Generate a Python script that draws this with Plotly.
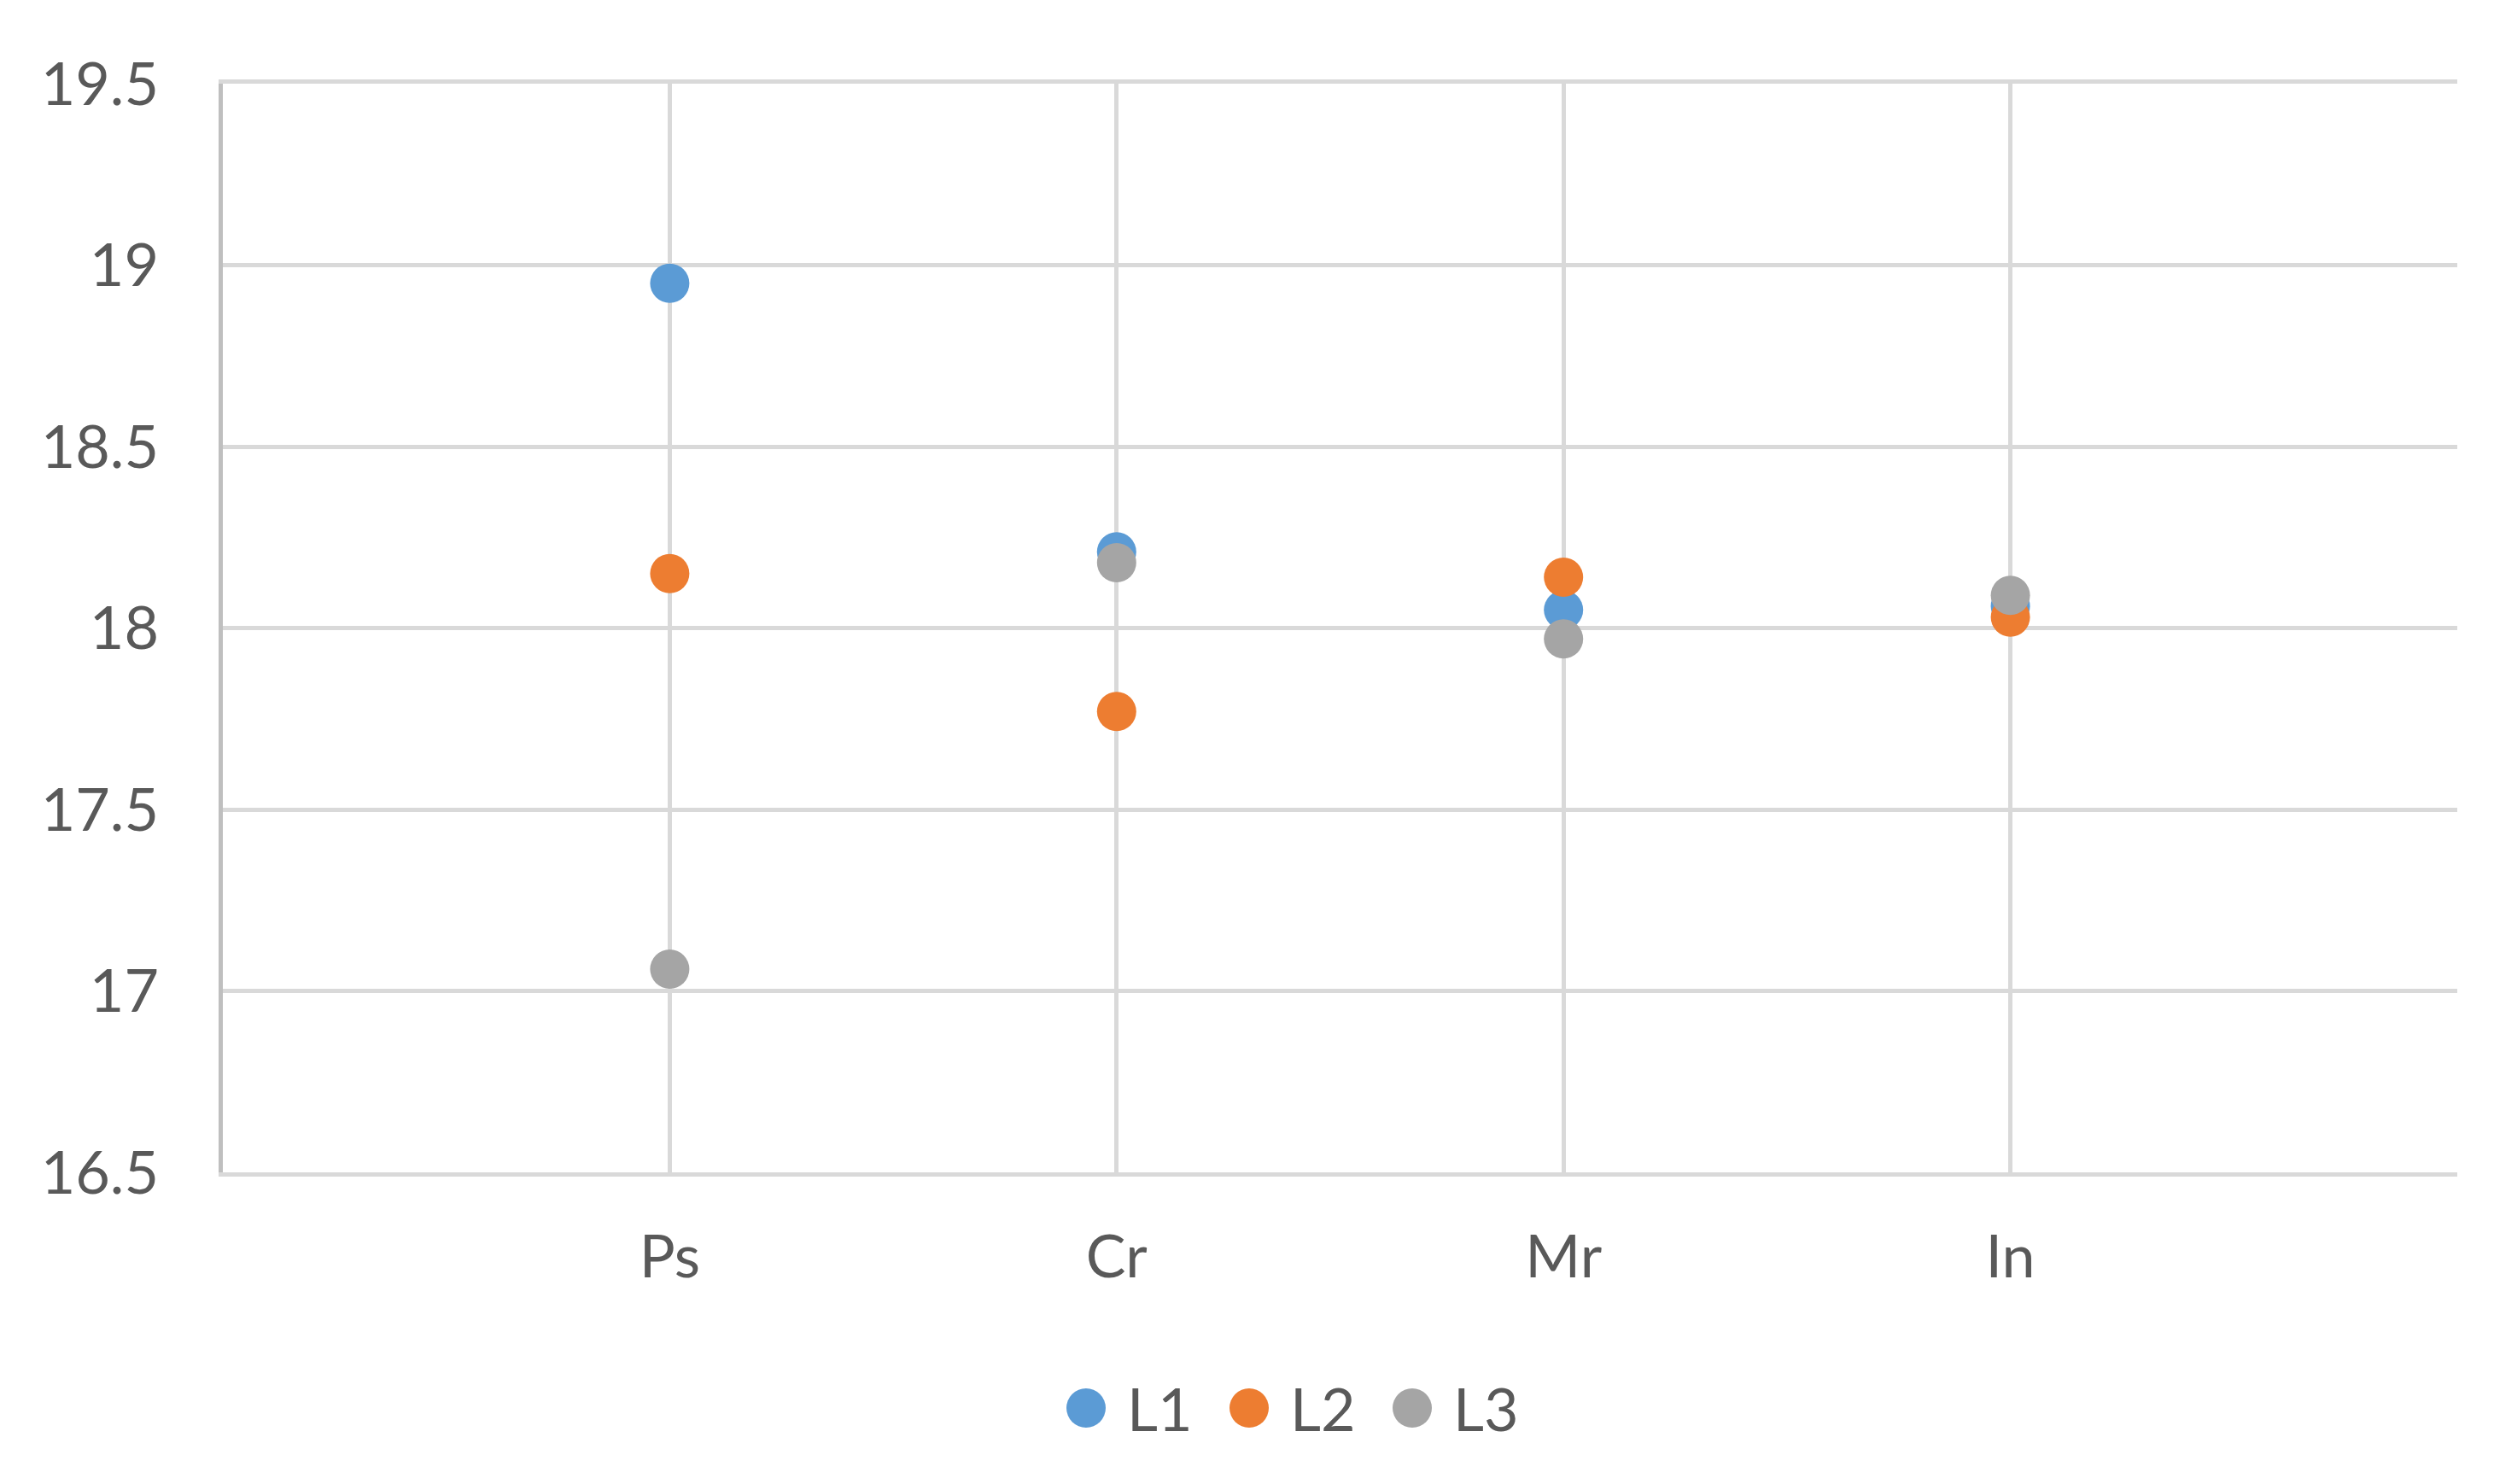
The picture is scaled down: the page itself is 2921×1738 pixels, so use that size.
import plotly.graph_objects as go

# ---- data ----
categories = ["Ps", "Cr", "Mr", "In"]
cat_pos = [1, 2, 3, 4]
series_names = ["L1", "L2", "L3"]
L1 = [18.95, 18.21, 18.05, 18.06]
L2 = [18.15, 17.77, 18.14, 18.03]
L3 = [17.06, 18.18, 17.97, 18.09]
series_values = [L1, L2, L3]
colors = ["#5B9BD5", "#ED7D31", "#A5A5A5"]
y_ticks = [16.5, 17, 17.5, 18, 18.5, 19, 19.5]
y_ticktext = ["16.5", "17", "17.5", "18", "18.5", "19", "19.5"]

# ---- layout geometry (pixels) ----
W, H = 2921, 1738
ML, MR, MT, MB = 261, 43, 98, 365
PW, PH = W - ML - MR, H - MT - MB
FONT = "Lato, 'Open Sans', sans-serif"
FS = 70
TXT = "#595959"
GRID = "#D9D9D9"
MSIZE = 46

fig = go.Figure()
for name, vals, col in zip(series_names, series_values, colors):
    fig.add_trace(go.Scatter(
        x=cat_pos, y=vals, mode="markers", name=name,
        marker=dict(size=MSIZE, color=col, line=dict(width=0)),
        showlegend=False,
    ))

xt_vals = [0] + cat_pos + [len(cat_pos) + 1]
xt_text = [""] + categories + [""]

fig.update_layout(
    width=W, height=H,
    margin=dict(l=ML, r=MR, t=MT, b=MB, pad=0),
    paper_bgcolor="white", plot_bgcolor="white",
    font=dict(family=FONT, size=FS, color=TXT),
    showlegend=False,
    xaxis=dict(range=[0, len(cat_pos) + 1], tickmode="array", tickvals=xt_vals, ticktext=xt_text,
               showgrid=True, gridcolor=GRID, gridwidth=5, zeroline=False,
               showline=True, linecolor=GRID, linewidth=5, mirror=True,
               ticks="", ticklabelstandoff=34, tickfont=dict(size=FS, color=TXT)),
    yaxis=dict(range=[16.5, 19.5], tickmode="array", tickvals=y_ticks, ticktext=y_ticktext,
               showgrid=True, gridcolor=GRID, gridwidth=5, zeroline=False,
               showline=True, linecolor="#BFBFBF", linewidth=5,
               ticks="", ticklabelstandoff=56, tickfont=dict(size=FS, color=TXT)),
)

# ---- custom legend (large round symbols like the original) ----
def px_to_paper_x(px):
    return (px - ML) / PW

def px_to_paper_y(py):
    return (MT + PH - py) / PH

leg_cx0, leg_step, leg_cy, r, txt_gap = 1272, 191, 1649, MSIZE / 2, 46
for i, (name, col) in enumerate(zip(series_names, colors)):
    cx = leg_cx0 + i * leg_step
    fig.add_shape(type="circle", xref="paper", yref="paper",
                  x0=px_to_paper_x(cx - r), x1=px_to_paper_x(cx + r),
                  y0=px_to_paper_y(leg_cy + r), y1=px_to_paper_y(leg_cy - r),
                  fillcolor=col, line=dict(width=0))
    fig.add_annotation(text=name, xref="paper", yref="paper",
                       x=px_to_paper_x(cx + txt_gap), y=px_to_paper_y(leg_cy),
                       xanchor="left", yanchor="middle", showarrow=False,
                       font=dict(family=FONT, size=FS, color=TXT))

fig.write_html("out.html", config={"displayModeBar": False},
               post_script="document.body.style.margin='0';document.body.style.overflow='hidden';")
